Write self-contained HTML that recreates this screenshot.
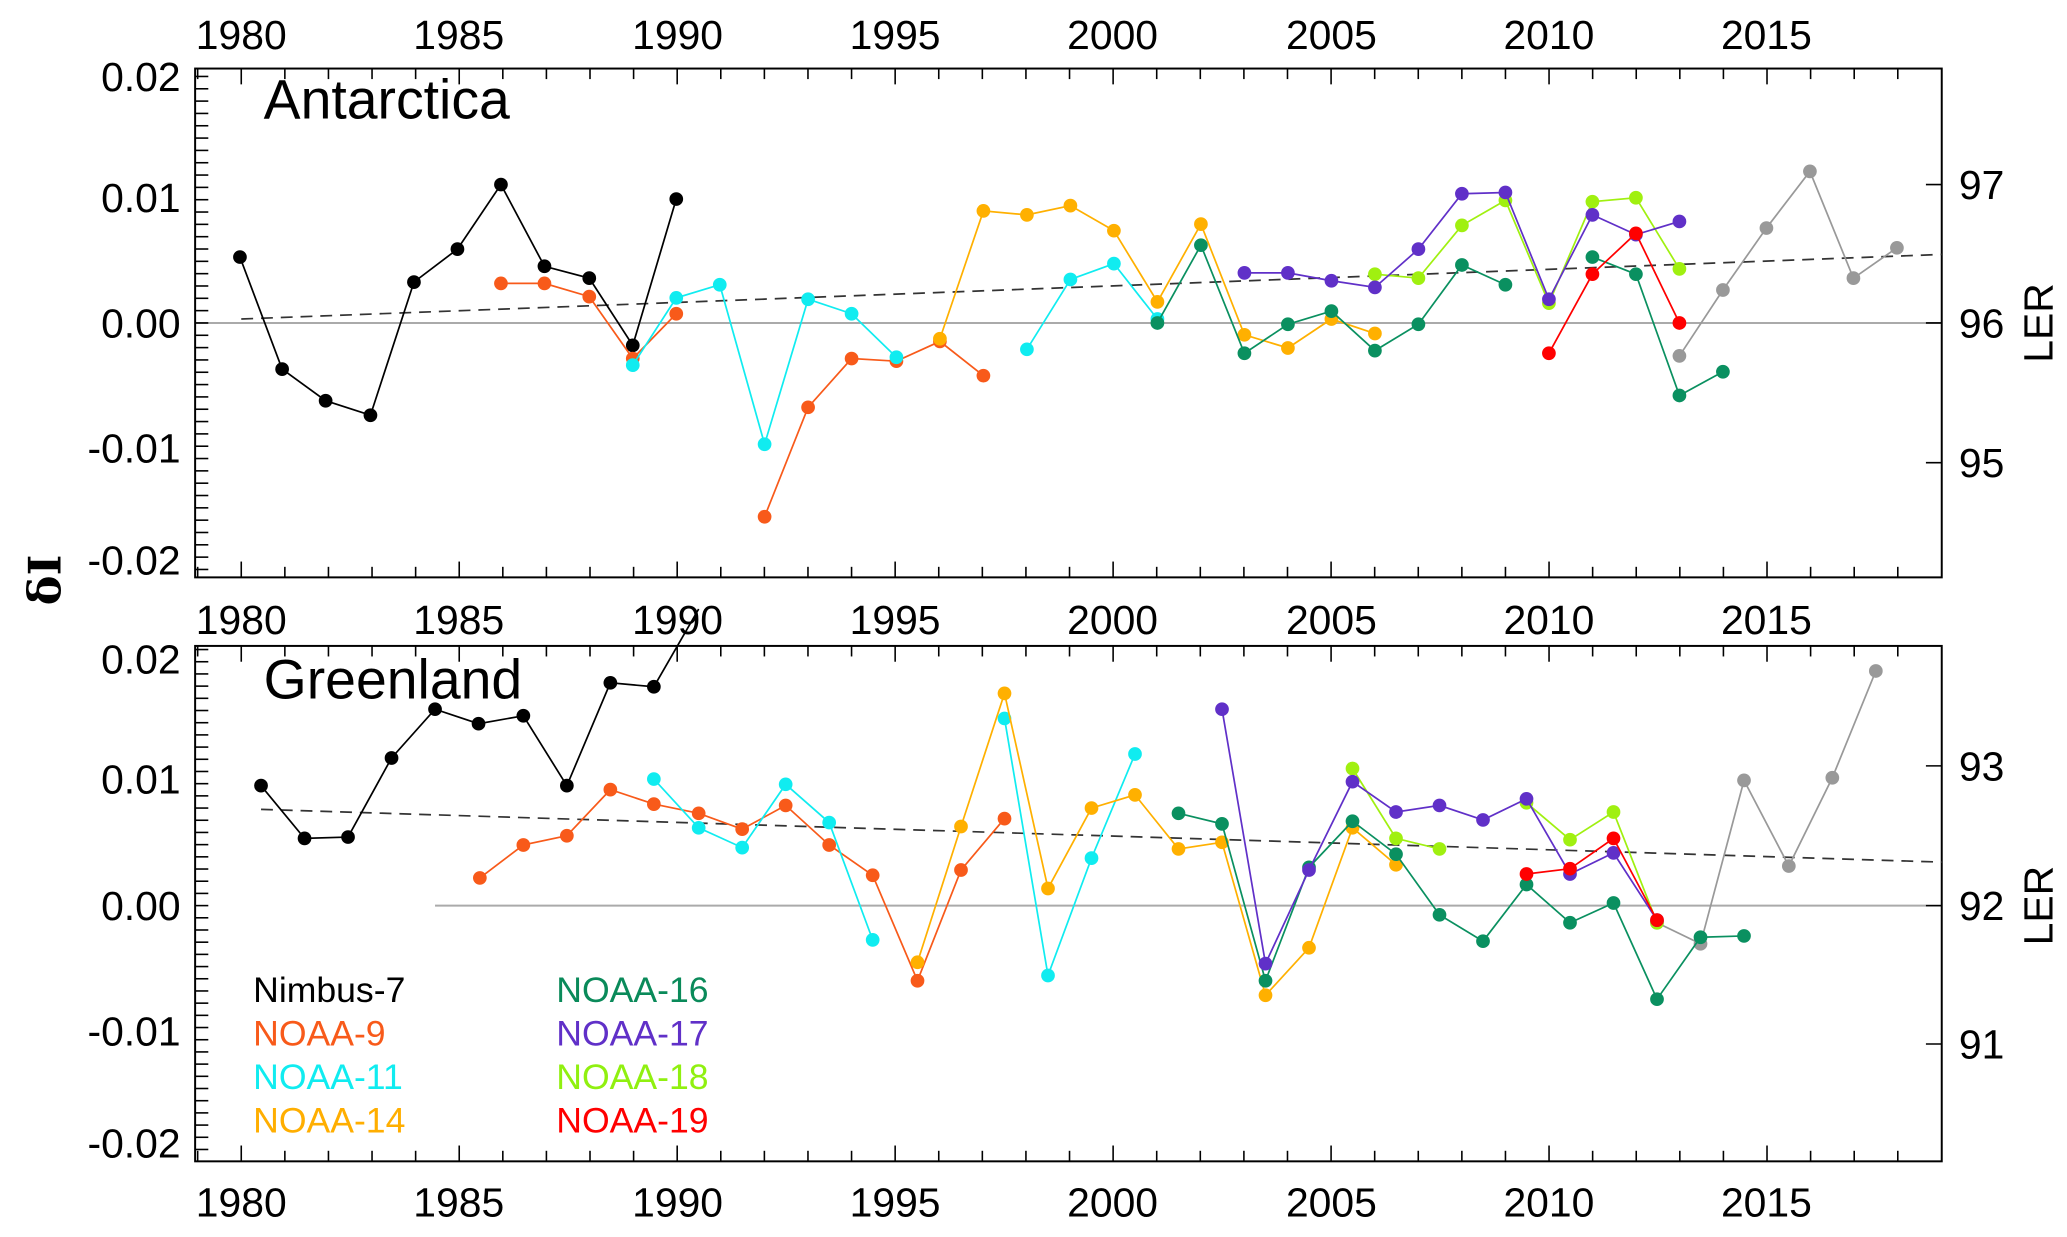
<!DOCTYPE html>
<html><head><meta charset="utf-8"><style>
html,body{margin:0;padding:0;background:#fff}
svg{display:block}
text{font-family:"Liberation Sans",sans-serif;fill:#000}
</style></head><body>
<svg id="s" width="2067" height="1237" viewBox="0 0 1568 938.4" xmlns="http://www.w3.org/2000/svg">
<rect width="1568" height="938.4" fill="#fff"/>
<g id="g"></g>
<g font-size="31">
<text x="183" y="37" text-anchor="middle">1980</text><text x="348" y="37" text-anchor="middle">1985</text><text x="514" y="37" text-anchor="middle">1990</text><text x="679" y="37" text-anchor="middle">1995</text><text x="844" y="37" text-anchor="middle">2000</text><text x="1010" y="37" text-anchor="middle">2005</text><text x="1175" y="37" text-anchor="middle">2010</text><text x="1340" y="37" text-anchor="middle">2015</text>
<text x="183" y="481" text-anchor="middle">1980</text><text x="348" y="481" text-anchor="middle">1985</text><text x="514" y="481" text-anchor="middle">1990</text><text x="679" y="481" text-anchor="middle">1995</text><text x="844" y="481" text-anchor="middle">2000</text><text x="1010" y="481" text-anchor="middle">2005</text><text x="1175" y="481" text-anchor="middle">2010</text><text x="1340" y="481" text-anchor="middle">2015</text>
<text x="183" y="923" text-anchor="middle">1980</text><text x="348" y="923" text-anchor="middle">1985</text><text x="514" y="923" text-anchor="middle">1990</text><text x="679" y="923" text-anchor="middle">1995</text><text x="844" y="923" text-anchor="middle">2000</text><text x="1010" y="923" text-anchor="middle">2005</text><text x="1175" y="923" text-anchor="middle">2010</text><text x="1340" y="923" text-anchor="middle">2015</text>
<text x="137" y="69" text-anchor="end">0.02</text><text x="137" y="161" text-anchor="end">0.01</text><text x="137" y="256" text-anchor="end">0.00</text><text x="137" y="351" text-anchor="end">-0.01</text><text x="137" y="436" text-anchor="end">-0.02</text>
<text x="137" y="511" text-anchor="end">0.02</text><text x="137" y="602" text-anchor="end">0.01</text><text x="137" y="698" text-anchor="end">0.00</text><text x="137" y="793" text-anchor="end">-0.01</text><text x="137" y="878" text-anchor="end">-0.02</text>
<text x="1486" y="151">97</text><text x="1486" y="256">96</text><text x="1486" y="362">95</text>
<text x="1486" y="592">93</text><text x="1486" y="698">92</text><text x="1486" y="803">91</text>
<text transform="translate(1557,245) rotate(-90)" text-anchor="middle">LER</text>
<text transform="translate(1557,687) rotate(-90)" text-anchor="middle">LER</text>
</g>
<text transform="translate(46,440) rotate(-90)" text-anchor="middle" font-size="34" font-weight="bold" style="font-family:'DejaVu Serif',serif">δI</text>
<text x="200" y="90" font-size="42">Antarctica</text>
<text x="200" y="530" font-size="42">Greenland</text>
<g font-size="27">
<text x="192" y="760" fill="#000">Nimbus-7</text>
<text x="192" y="793" style="fill:#f85a1a">NOAA-9</text>
<text x="192" y="826" style="fill:#10ecf0">NOAA-11</text>
<text x="192" y="859" style="fill:#ffae00">NOAA-14</text>
<text x="422" y="760" style="fill:#0a8a5a">NOAA-16</text>
<text x="422" y="793" style="fill:#6030c8">NOAA-17</text>
<text x="422" y="826" style="fill:#90f010">NOAA-18</text>
<text x="422" y="859" style="fill:#ff0000">NOAA-19</text>
</g>
</svg>
<script>
const g=document.getElementById('g');let h='';
const L=(x1,y1,x2,y2,c,w,d)=>{h+=`<line x1="${x1}" y1="${y1}" x2="${x2}" y2="${y2}" stroke="${c}" stroke-width="${w}"${d?` stroke-dasharray="${d}"`:''}/>`};
const yr=y=>183+(y-1980)*33.07;
function panel(top,bot,z,k,ler){
 L(ler.length&&top<100?148:330,z,1473,z,'#aaa',1.5);
 h+=`<rect x="148" y="${top}" width="1325" height="${bot-top}" fill="none" stroke="#000" stroke-width="1.5"/>`;
 for(let v=-0.021;v<=0.0215;v+=0.001){const y=z-v*k;if(y>top+1&&y<bot-1)L(148,y,158,y,'#000',1.2);}
 for(let y0=1979;y0<=2019;y0++){const x=yr(y0);if(x>149&&x<1472){const l=(y0%5==0)?12:8;L(x,bot,x,bot-l,'#000',1.2);L(x,top,x,top+l,'#000',1.2);}}
 for(const t of ler){L(1473,t,1461,t,'#000',1.2);}
}
panel(52,438,245,9350,[140,245,351]);
panel(490,881,687,9250,[581,687,792]);
const S=(c,p)=>{h+=`<polyline points="${p.map(q=>q.join(',')).join(' ')}" fill="none" stroke="${c}" stroke-width="1.3"/>`;for(const q of p)h+=`<circle cx="${q[0]}" cy="${q[1]}" r="5.2" fill="${c}"/>`;};
const C={k:'#000',o9:'#f85a1a',c:'#10ecf0',o:'#ffb000',g:'#0a9060',p:'#6030c8',l:'#a0f010',r:'#ff0000',gr:'#999'};
L(183,242,1473,193,'#333',1.3,'9,6');
L(198,614,1473,654,'#333',1.3,'9,6');
S(C.gr,[[1274,270],[1307,220],[1340,173],[1373,130],[1406,211],[1439,188]]);
S(C.k,[[182,195],[214,280],[247,304],[281,315],[314,214],[347,189],[380,140],[413,202],[447,211],[480,262],[513,151]]);
S(C.o9,[[380,215],[413,215],[447,225],[480,272],[513,238]]);
S(C.o9,[[580,392],[613,309],[646,272],[680,274],[713,259],[746,285]]);
S(C.c,[[480,277],[513,226],[546,216],[580,337],[613,227],[646,238],[680,271]]);
S(C.c,[[779,265],[812,212],[845,200],[878,242]]);
S(C.o,[[713,257],[746,160],[779,163],[812,156],[845,175],[878,229],[911,170],[944,254],[977,264],[1010,242],[1043,253]]);
S(C.g,[[878,245],[911,186],[944,268],[977,246],[1010,236],[1043,266],[1076,246],[1109,201],[1142,216]]);
S(C.g,[[1208,195],[1241,208],[1274,300],[1307,282]]);
S(C.l,[[1043,208],[1076,211],[1109,171],[1142,152],[1175,230],[1208,153],[1241,150],[1274,204]]);
S(C.p,[[944,207],[977,207],[1010,213],[1043,218],[1076,189],[1109,147],[1142,146],[1175,227],[1208,163],[1241,178],[1274,168]]);
S(C.r,[[1175,268],[1208,208],[1241,177],[1274,245]]);
S(C.gr,[[1257,700],[1290,716],[1323,592],[1357,657],[1390,590],[1423,509]]);
S(C.k,[[198,596],[231,636],[264,635],[297,575],[330,538],[363,549],[397,543],[430,596],[463,518],[496,521]]);
L(496,521,530,462,'#000',1.3);
S(C.o9,[[364,666],[397,641],[430,634],[463,599],[496,610],[530,617],[563,629],[596,611],[629,641],[662,664],[696,744],[729,660],[762,621]]);
S(C.c,[[496,591],[530,628],[563,643],[596,595],[629,624],[662,713]]);
S(C.c,[[762,545],[795,740],[828,651],[861,572]]);
S(C.o,[[696,730],[729,627],[762,526],[795,674],[828,613],[861,603],[894,644],[927,639],[960,755],[993,719],[1026,628],[1059,656]]);
S(C.g,[[894,617],[927,625],[960,744],[993,658],[1026,623],[1059,648],[1092,694],[1125,714],[1158,671],[1191,700],[1224,685],[1257,758],[1290,711],[1323,710]]);
S(C.l,[[1026,583],[1059,636],[1092,644]]);
S(C.l,[[1158,609],[1191,637],[1224,616],[1257,700]]);
S(C.p,[[927,538],[960,731],[993,660],[1026,593],[1059,616],[1092,611],[1125,622],[1158,606],[1191,663],[1224,647],[1257,698]]);
S(C.r,[[1158,663],[1191,659],[1224,636],[1257,698]]);
g.innerHTML=h;
</script>
</body></html>
